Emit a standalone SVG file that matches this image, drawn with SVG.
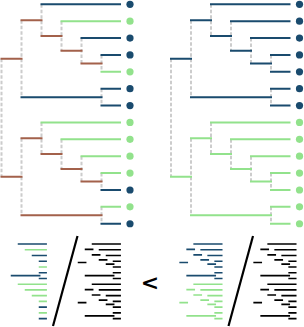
<svg xmlns="http://www.w3.org/2000/svg" xmlns:xlink="http://www.w3.org/1999/xlink" width="304" height="327" viewBox="0 0 304 327">
<style>
.e{fill:none;stroke-linecap:square;vector-effect:non-scaling-stroke}
.dash{fill:none;stroke:#cccccc;stroke-width:2;stroke-dasharray:3.5 2}
.main{stroke-width:2}
.mini{stroke-width:1.7}
.b{stroke:#1a4b6e}
.g{stroke:#92e28c}
.r{stroke:#a3614b}
.k{stroke:#000}
.db{fill:#1a4b6e}
.dg{fill:#92e28c}
.slash{stroke:#000;stroke-width:2.2;fill:none}
.lt{font-family:"DejaVu Sans",sans-serif;font-size:22px;font-weight:bold;fill:#000}
</style>
<defs>
<path id="vd" class="dash" d="M1.5 58.63V176.79M21.5 20.13V97.14M21.5 138.29V215.3M41.5 4.3V35.95M61.5 21.18V50.72M81.5 38.06V63.38M101.5 54.94V71.82M101.5 88.7V105.58M41.5 122.46V154.11M61.5 139.34V168.88M81.5 156.22V181.54M101.5 173.1V189.98M101.5 206.86V223.74"/>
<path id="Lb" class="e" d="M41.5 4.3H120M81.5 38.06H120M101.5 54.94H120M101.5 88.7H120M101.5 105.58H120M101.5 189.98H120M101.5 223.74H120M21.5 97.14H101.5"/>
<path id="Lg" class="e" d="M61.5 21.18H120M101.5 71.82H120M41.5 122.46H120M61.5 139.34H120M81.5 156.22H120M101.5 173.1H120M101.5 206.86H120"/>
<path id="Lr" class="e" d="M1.5 58.63H21.5M1.5 176.79H21.5M21.5 20.13H41.5M41.5 35.95H61.5M61.5 50.72H81.5M81.5 63.38H101.5M21.5 138.29H41.5M21.5 215.3H101.5M41.5 154.11H61.5M61.5 168.88H81.5M81.5 181.54H101.5"/>
<path id="Rb" class="e" d="M41.5 4.3H120M61.5 21.18H120M81.5 38.06H120M101.5 54.94H120M101.5 71.82H120M101.5 88.7H120M101.5 105.58H120M1.5 58.63H21.5M21.5 20.13H41.5M21.5 97.14H101.5M41.5 35.95H61.5M61.5 50.72H81.5M81.5 63.38H101.5"/>
<path id="Rg" class="e" d="M41.5 122.46H120M61.5 139.34H120M81.5 156.22H120M101.5 173.1H120M101.5 189.98H120M101.5 206.86H120M101.5 223.74H120M1.5 176.79H21.5M21.5 138.29H41.5M21.5 215.3H101.5M41.5 154.11H61.5M61.5 168.88H81.5M81.5 181.54H101.5"/>
</defs>

<g id="connectors">
  <g id="left-tree-edges">
    <use xlink:href="#vd"/>
    <use xlink:href="#Lb" class="main b"/>
    <use xlink:href="#Lg" class="main g"/>
    <use xlink:href="#Lr" class="main r"/>
  </g>
  <g id="right-tree-edges" transform="translate(169.5,0)">
    <use xlink:href="#vd"/>
    <use xlink:href="#Rb" class="main b"/>
    <use xlink:href="#Rg" class="main g"/>
  </g>
</g>

<g id="left-tips">
  <g id="L0"><circle class="db" cx="130" cy="4.3" r="3.6"/></g>
  <g id="L1"><circle class="dg" cx="130" cy="21.18" r="3.6"/></g>
  <g id="L2"><circle class="db" cx="130" cy="38.06" r="3.6"/></g>
  <g id="L3"><circle class="db" cx="130" cy="54.94" r="3.6"/></g>
  <g id="L4"><circle class="dg" cx="130" cy="71.82" r="3.6"/></g>
  <g id="L5"><circle class="db" cx="130" cy="88.7" r="3.6"/></g>
  <g id="L6"><circle class="db" cx="130" cy="105.58" r="3.6"/></g>
  <g id="L7"><circle class="dg" cx="130" cy="122.46" r="3.6"/></g>
  <g id="L8"><circle class="dg" cx="130" cy="139.34" r="3.6"/></g>
  <g id="L9"><circle class="dg" cx="130" cy="156.22" r="3.6"/></g>
  <g id="L10"><circle class="dg" cx="130" cy="173.1" r="3.6"/></g>
  <g id="L11"><circle class="db" cx="130" cy="189.98" r="3.6"/></g>
  <g id="L12"><circle class="dg" cx="130" cy="206.86" r="3.6"/></g>
  <g id="L13"><circle class="db" cx="130" cy="223.74" r="3.6"/></g>
</g>
<g id="right-tips">
  <g id="R0"><circle class="db" cx="299.5" cy="4.3" r="3.6"/></g>
  <g id="R1"><circle class="db" cx="299.5" cy="21.18" r="3.6"/></g>
  <g id="R2"><circle class="db" cx="299.5" cy="38.06" r="3.6"/></g>
  <g id="R3"><circle class="db" cx="299.5" cy="54.94" r="3.6"/></g>
  <g id="R4"><circle class="db" cx="299.5" cy="71.82" r="3.6"/></g>
  <g id="R5"><circle class="db" cx="299.5" cy="88.7" r="3.6"/></g>
  <g id="R6"><circle class="db" cx="299.5" cy="105.58" r="3.6"/></g>
  <g id="R7"><circle class="dg" cx="299.5" cy="122.46" r="3.6"/></g>
  <g id="R8"><circle class="dg" cx="299.5" cy="139.34" r="3.6"/></g>
  <g id="R9"><circle class="dg" cx="299.5" cy="156.22" r="3.6"/></g>
  <g id="R10"><circle class="dg" cx="299.5" cy="173.1" r="3.6"/></g>
  <g id="R11"><circle class="dg" cx="299.5" cy="189.98" r="3.6"/></g>
  <g id="R12"><circle class="dg" cx="299.5" cy="206.86" r="3.6"/></g>
  <g id="R13"><circle class="dg" cx="299.5" cy="223.74" r="3.6"/></g>
</g>

<g id="mini-left-colour" transform="matrix(0.35 0 0 0.3404 4.075 242.54)">
  <use xlink:href="#Lb" class="mini b"/>
  <use xlink:href="#Lg" class="mini g"/>
</g>
<g id="mini-left-black" transform="matrix(0.35 0 0 0.3404 78.075 242.54)">
  <use xlink:href="#Lb" class="mini k"/>
  <use xlink:href="#Lg" class="mini k"/>
  <use xlink:href="#Lr" class="mini k"/>
</g>
<g id="mini-right-colour" transform="matrix(0.35 0 0 0.3404 179.675 242.54)">
  <use xlink:href="#Rb" class="mini b"/>
  <use xlink:href="#Rg" class="mini g"/>
</g>
<g id="mini-right-black" transform="matrix(0.35 0 0 0.3404 253.675 242.54)">
  <use xlink:href="#Rb" class="mini k"/>
  <use xlink:href="#Rg" class="mini k"/>
</g>

<line class="slash" x1="77.5" y1="236" x2="53" y2="326"/>
<line class="slash" x1="253" y1="236" x2="228.5" y2="326"/>
<text class="lt" x="150" y="290" text-anchor="middle">&lt;</text>
</svg>
